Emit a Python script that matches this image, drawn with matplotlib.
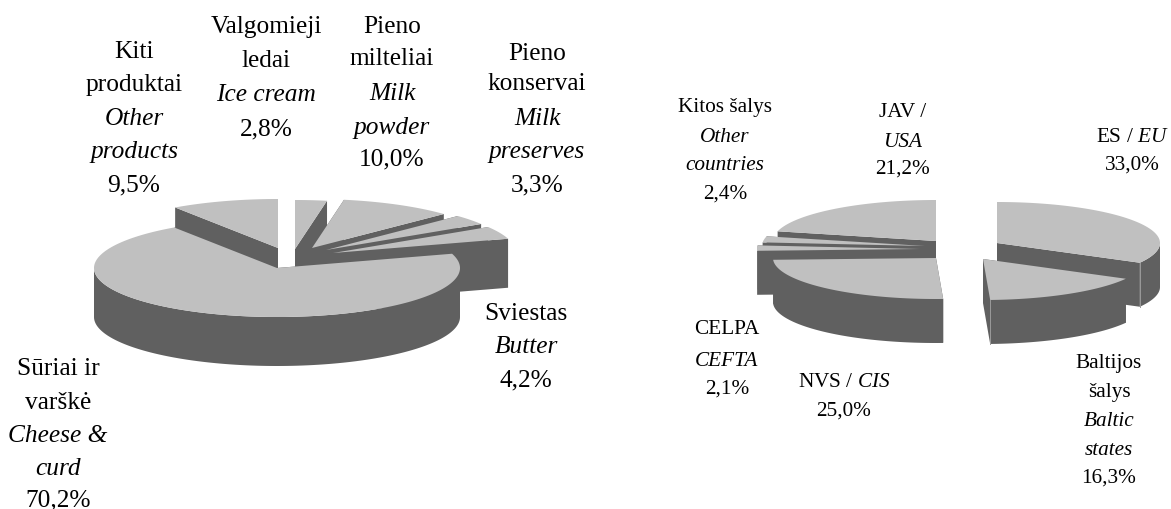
"""Dvi trimates skritulines diagramos: pieno produktu eksportas."""
import numpy as np
from matplotlib import pyplot as plt

plt.rcParams["font.family"] = ["Liberation Serif", "DejaVu Serif"]
plt.rcParams["mathtext.fontset"] = "custom"
plt.rcParams["mathtext.rm"] = "Liberation Serif"
plt.rcParams["mathtext.it"] = "Liberation Serif:italic"

# Produktai (pagal laikrodzio rodykle nuo virsaus)
prod_values = [2.8, 10.0, 3.3, 4.2, 70.2, 9.5]
prod_lt = [["Valgomieji", "ledai"], ["Pieno", "milteliai"], ["Pieno", "konservai"],
           ["Sviestas"], ["Sūriai ir", "varškė"], ["Kiti", "produktai"]]
prod_en = [["Ice cream"], ["Milk", "powder"], ["Milk", "preserves"],
           ["Butter"], ["Cheese &", "curd"], ["Other", "products"]]

# Salys
salys_values = [33.0, 16.3, 25.0, 2.1, 2.4, 21.2]
salys_lt = [["ES / $\\mathit{EU}$"], ["Baltijos", "šalys"], ["NVS / $\\mathit{CIS}$"],
            ["CELPA"], ["Kitos šalys"], ["JAV /"]]
salys_en = [[], ["Baltic", "states"], [], ["CEFTA"], ["Other", "countries"], ["USA"]]

TOP = "#c0c0c0"
WALL = "#606060"
CREASE = "#9a9a9a"

# Geometrija pikseliais
PROD_PIE = dict(center=(277, 268), rx=183, ry=49, depth=49,
                explode=[(18, -19), (35, -20), (49, -18), (56, -15), (0, 0), (1, -20)],
                order=[0, 1, 2, 3, 5, 4])
SALYS_PIE = dict(center=(936, 258), rx=163, ry=41, depth=44,
                 explode=[(61, -15), (47, 1), (0, 0), (-16, -9), (-11, -12), (0, -17)],
                 order=[0, 1, 5, 4, 3, 2])

# Etikeciu vietos: centras x ir kiekvienos eilutes centras y
PROD_X = [266, 392, 537, 526, 58, 134]
PROD_Y = [[25, 59, 93, 127], [25, 57, 92, 126, 157], [52, 82, 117, 150, 183],
          [312, 345, 378], [367, 401, 434, 467, 498], [50, 83, 117, 150, 183]]
SALYS_X = [1132, 1109, 844, 727, 725, 903]
SALYS_Y = [[135, 163], [361, 390, 419, 448, 476], [380, 409],
           [327, 359, 387], [105, 135, 163, 192], [110, 140, 167]]


def elipse(cx, cy, rx, ry, a0, a1):
    t = np.radians(np.linspace(a0, a1, 200))
    return cx + rx * np.sin(t), cy - ry * np.cos(t)


def piesti_pyrago_dali(ax, cx, cy, rx, ry, depth, a0, a1):
    """Viena dalis: sonines sienos, tada virsus. Kampai nuo virsaus, pagal laikrodi."""
    x, y = elipse(cx, cy, rx, ry, a0, a1)
    # abu pjuviai
    for xe, ye in ((x[0], y[0]), (x[-1], y[-1])):
        ax.fill([cx, xe, xe, cx], [cy, ye, ye + depth, cy + depth], color=WALL, lw=0)
    # lankas: matoma tik priekine puse (90-270 laipsniu)
    f0, f1 = max(a0, 90), min(a1, 270)
    if f1 > f0:
        xf, yf = elipse(cx, cy, rx, ry, f0, f1)
        ax.fill(np.r_[xf, xf[::-1]], np.r_[yf, yf[::-1] + depth], color=WALL, lw=0)
    ax.fill(np.r_[cx, x], np.r_[cy, y], color=TOP, lw=0)
    # matoma briauna tarp pjuvio ir lanko
    if 90 < a1 < 180:
        ax.plot([x[-1], x[-1]], [y[-1], y[-1] + depth], color=CREASE, lw=0.7)


def piesti_pyraga(ax, values, center, rx, ry, depth, explode, order):
    ribos = np.r_[0, np.cumsum(values)] / np.sum(values) * 360
    for i in order:
        dx, dy = explode[i]
        piesti_pyrago_dali(ax, center[0] + dx, center[1] + dy, rx, ry, depth,
                           ribos[i], ribos[i + 1])


def rasyti_etiketes(ax, values, lt, en, xs, ys, size, base):
    for v, l, e, x, y in zip(values, lt, en, xs, ys):
        pct = f"{v:.1f}".replace(".", ",") + "%"
        eilutes = [(s, "normal") for s in l] + [(s, "italic") for s in e] + [(pct, "normal")]
        for (s, stilius), yy in zip(eilutes, y):
            ax.text(x, yy + base, s, fontsize=size, style=stilius,
                    ha="center", va="baseline", color="black")


fig = plt.figure(figsize=(11.71, 5.09), dpi=100)
ax = fig.add_axes([0, 0, 1, 1])
ax.set_xlim(0, 1171)
ax.set_ylim(509, 0)
ax.axis("off")

piesti_pyraga(ax, prod_values, **PROD_PIE)
piesti_pyraga(ax, salys_values, **SALYS_PIE)

rasyti_etiketes(ax, prod_values, prod_lt, prod_en, PROD_X, PROD_Y, 18.3, 8)
rasyti_etiketes(ax, salys_values, salys_lt, salys_en, SALYS_X, SALYS_Y, 15.3, 7)

fig.savefig("out.png", dpi=100)
plt.close(fig)
